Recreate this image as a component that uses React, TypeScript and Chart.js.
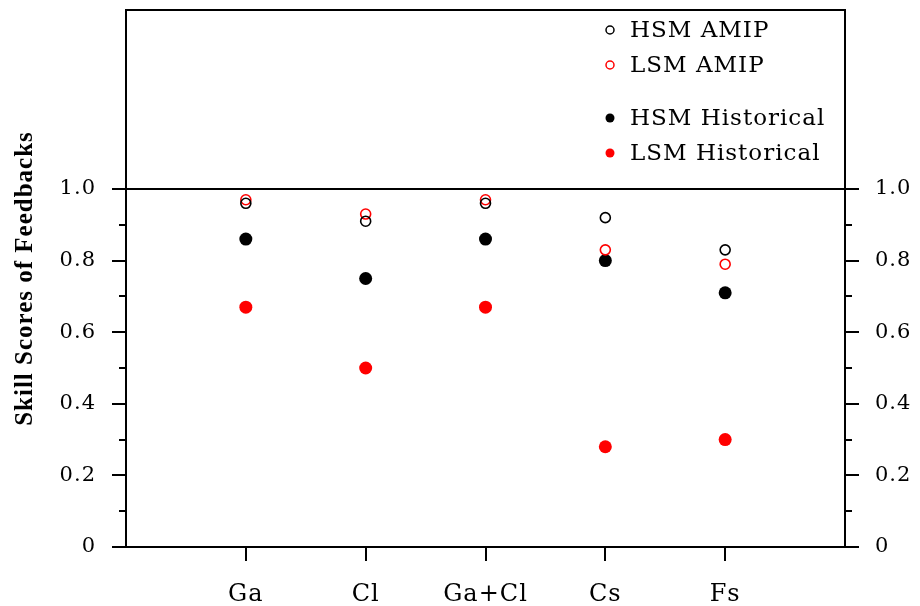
import React, { useEffect, useRef } from "react";
import { Chart, registerables } from "chart.js";

Chart.register(...registerables);

const categories = ["Ga", "Cl", "Ga+Cl", "Cs", "Fs"];
const hsmAmip = [0.96, 0.91, 0.96, 0.92, 0.83];
const lsmAmip = [0.97, 0.93, 0.97, 0.83, 0.79];
const hsmHist = [0.86, 0.75, 0.86, 0.8, 0.71];
const lsmHist = [0.67, 0.5, 0.67, 0.28, 0.3];

const yMajorValues = [0, 0.2, 0.4, 0.6, 0.8, 1.0];
const yMajorLabels = ["0", "0.2", "0.4", "0.6", "0.8", "1.0"];
const yMinorValues = [0.1, 0.3, 0.5, 0.7, 0.9];
const refLineValue = 1.0;

const seriesLabels = ["HSM AMIP", "LSM AMIP", "HSM Historical", "LSM Historical"];

const FONT = "'DejaVu Serif', 'Liberation Serif', serif";

function toPoints(vals: number[]) {
  return vals.map((v, i) => ({ x: i + 1, y: v }));
}

function isMajor(v: number) {
  return yMajorValues.findIndex((m) => Math.abs(m - v) < 1e-6);
}

const allYTicks = [...yMajorValues, ...yMinorValues].sort((a, b) => a - b);

const framePlugin = {
  id: "frame",
  beforeDraw(chart: any) {
    const ctx = chart.ctx;
    ctx.save();
    ctx.fillStyle = "#ffffff";
    ctx.fillRect(0, 0, chart.width, chart.height);
    ctx.restore();
    (ctx as any).letterSpacing = "1px";
  },
  afterDraw(chart: any) {
    const ctx = chart.ctx;
    const { left, right, top, bottom } = chart.chartArea;
    const ys = chart.scales.y;
    const xs = chart.scales.x;
    ctx.save();
    ctx.strokeStyle = "#000";
    ctx.lineWidth = 2;
    ctx.beginPath();
    ctx.rect(left, top, right - left, bottom - top);
    ctx.stroke();
    ctx.beginPath();
    allYTicks.forEach((v) => {
      const len = isMajor(v) >= 0 ? 14 : 7;
      const py = Math.round(ys.getPixelForValue(v));
      ctx.moveTo(left - len, py);
      ctx.lineTo(left, py);
      ctx.moveTo(right, py);
      ctx.lineTo(right + len, py);
    });
    const ry = Math.round(ys.getPixelForValue(refLineValue));
    ctx.moveTo(left - 14, ry);
    ctx.lineTo(right + 14, ry);
    categories.forEach((_, i) => {
      const px = Math.round(xs.getPixelForValue(i + 1));
      ctx.moveTo(px, bottom);
      ctx.lineTo(px, bottom + 14);
    });
    ctx.stroke();

    // legend
    const rowsY = [30, 65, 118, 153];
    const markX = 610;
    const textX = 630;
    ctx.font = `23px ${FONT}`;
    (ctx as any).letterSpacing = "1px";
    ctx.textBaseline = "middle";
    ctx.textAlign = "left";
    chart.data.datasets.forEach((ds: any, i: number) => {
      const y = rowsY[i];
      ctx.beginPath();
      if (i < 2) {
        ctx.lineWidth = 1.5;
        ctx.strokeStyle = ds.borderColor;
        ctx.arc(markX, y, 4, 0, Math.PI * 2);
        ctx.stroke();
      } else {
        ctx.fillStyle = ds.backgroundColor;
        ctx.arc(markX, y, 4.5, 0, Math.PI * 2);
        ctx.fill();
      }
      ctx.fillStyle = "#000";
      ctx.fillText(ds.label, textX, y + 1);
    });
    ctx.restore();
  },
};

export default function App() {
  const ref = useRef<HTMLCanvasElement | null>(null);
  useEffect(() => {
    if (!ref.current) return;
    const yTicksCfg = {
      font: { family: FONT, size: 21 },
      color: "#000",
      padding: 30,
      callback: (v: any) => {
        const idx = isMajor(Number(v));
        return idx >= 0 ? yMajorLabels[idx] : "";
      },
    };
    const zeroPad = (scale: any) => {
      scale.paddingTop = 0;
      scale.paddingBottom = 0;
      scale.paddingLeft = 0;
      scale.paddingRight = 0;
    };
    const chart = new Chart(ref.current, {
      type: "scatter",
      data: {
        datasets: [
          {
            label: seriesLabels[0],
            data: toPoints(hsmAmip),
            borderColor: "#000000",
            backgroundColor: "rgba(0,0,0,0)",
            pointRadius: 5,
            borderWidth: 1.6,
          },
          {
            label: seriesLabels[1],
            data: toPoints(lsmAmip),
            borderColor: "#ff0000",
            backgroundColor: "rgba(0,0,0,0)",
            pointRadius: 5,
            borderWidth: 1.6,
          },
          {
            label: seriesLabels[2],
            data: toPoints(hsmHist),
            borderColor: "#000000",
            backgroundColor: "#000000",
            pointRadius: 6.5,
            borderWidth: 0,
          },
          {
            label: seriesLabels[3],
            data: toPoints(lsmHist),
            borderColor: "#ff0000",
            backgroundColor: "#ff0000",
            pointRadius: 6.5,
            borderWidth: 0,
          },
        ],
      },
      options: {
        animation: false,
        responsive: false,
        devicePixelRatio: 1,
        layout: { padding: { top: 10, left: 0, right: 0, bottom: 0 } },
        plugins: { legend: { display: false }, tooltip: { enabled: false } },
        scales: {
          x: {
            type: "linear",
            min: 0,
            max: 6,
            grid: { display: false, drawTicks: false },
            border: { display: false },
            afterBuildTicks: (scale: any) => {
              scale.ticks = categories.map((_, i) => ({ value: i + 1 }));
            },
            afterFit: (scale: any) => {
              scale.height = 59;
              zeroPad(scale);
            },
            ticks: {
              font: { family: FONT, size: 24 },
              color: "#000",
              padding: 33,
              autoSkip: false,
              maxRotation: 0,
              callback: (v: any) => categories[Number(v) - 1] ?? "",
            },
          },
          y: {
            type: "linear",
            position: "left",
            min: 0,
            max: 1.5,
            grid: { display: false, drawTicks: false },
            border: { display: false },
            afterBuildTicks: (scale: any) => {
              scale.ticks = allYTicks.map((v) => ({ value: v }));
            },
            afterFit: (scale: any) => {
              scale.width = 126;
              zeroPad(scale);
            },
            ticks: yTicksCfg as any,
            title: {
              display: true,
              text: "Skill Scores of Feedbacks",
              color: "#000",
              font: { family: "'Liberation Serif', serif", size: 25, weight: "bold" },
              padding: { top: 11, bottom: 0 },
            },
          },
          y2: {
            type: "linear",
            position: "right",
            min: 0,
            max: 1.5,
            grid: { display: false, drawTicks: false },
            border: { display: false },
            afterBuildTicks: (scale: any) => {
              scale.ticks = allYTicks.map((v) => ({ value: v }));
            },
            afterFit: (scale: any) => {
              scale.width = 75;
              zeroPad(scale);
            },
            ticks: { ...yTicksCfg, padding: 30 } as any,
          },
        },
      },
      plugins: [framePlugin],
    });
    return () => chart.destroy();
  }, []);
  return (
    <div style={{ position: "absolute", left: 0, top: 0, width: 920, height: 606 }}>
      <canvas ref={ref} width={920} height={606} />
    </div>
  );
}
